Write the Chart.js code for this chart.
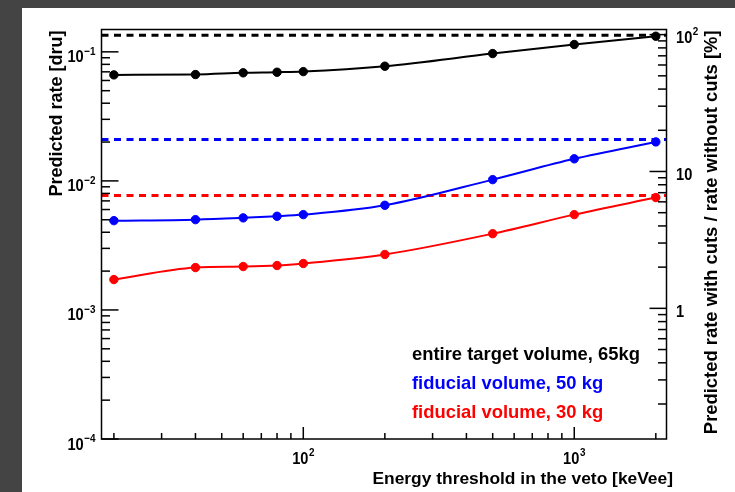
<!DOCTYPE html>
<html><head><meta charset="utf-8">
<style>html,body{margin:0;padding:0;background:#444;} #wrap{width:735px;height:492px;position:relative;}</style>
<script src="https://cdn.jsdelivr.net/npm/chart.js@4/dist/chart.umd.min.js"></script>
</head><body><div id="wrap"><canvas id="c" width="735" height="492"></canvas></div>
<script>
// ---- data ----
const thresholds = [20, 40, 60, 80, 100, 200, 500, 1000, 2000];
const rateEntire = [0.0663, 0.0667, 0.0688, 0.0695, 0.0703, 0.0774, 0.0970, 0.1140, 0.1321];
const rateFid50  = [0.00492, 0.00501, 0.00517, 0.00532, 0.00548, 0.00647, 0.01023, 0.01483, 0.02005];
const rateFid30  = [0.00172, 0.00213, 0.00217, 0.00221, 0.00229, 0.00269, 0.00390, 0.00548, 0.00743];
const noCutRates = [0.1346, 0.0209, 0.00769];
const seriesLabels = ['entire target volume, 65kg', 'fiducial volume, 50 kg', 'fiducial volume, 30 kg'];
const seriesColors = ['#000000', '#0000ff', '#ff0000'];
const xRange = [18, 2190];
const yRange = [1e-4, 0.149];
const y2Range = [0.111, 109];
const xTickValues = [100, 1000];
const xTickBases = ['10', '10'];
const xTickExps = ['2', '3'];
const yTickValues = [1e-4, 1e-3, 1e-2, 1e-1];
const yTickBases = ['10', '10', '10', '10'];
const yTickExps = ['\u22124', '\u22123', '\u22122', '\u22121'];
const y2TickValues = [1, 10, 100];
const y2TickBases = ['1', '10', '10'];
const y2TickExps = ['', '', '2'];
const xTitle = 'Energy threshold in the veto [keVee]';
const yTitle = 'Predicted rate [dru]';
const y2Title = 'Predicted rate with cuts / rate without cuts [%]';

const FONT = "'Liberation Sans', Arial, Helvetica, sans-serif";
const seriesValues = [rateEntire, rateFid50, rateFid30];

const solidSets = seriesValues.map((vals, i) => ({
  label: seriesLabels[i],
  data: thresholds.map((t, k) => ({x: t, y: vals[k]})),
  borderColor: seriesColors[i],
  backgroundColor: seriesColors[i],
  borderWidth: 2,
  pointRadius: 4.2,
  pointBorderWidth: 1,
  pointBackgroundColor: seriesColors[i],
  pointBorderColor: seriesColors[i],
  cubicInterpolationMode: 'monotone',
  yAxisID: 'y'
}));
const dashedSets = noCutRates.map((v, i) => ({
  label: seriesLabels[i] + ' (no cuts)',
  data: [{x: xRange[0], y: v}, {x: xRange[1], y: v}],
  borderColor: seriesColors[i],
  borderWidth: 3,
  borderDash: [7, 5.5],
  pointRadius: 0,
  yAxisID: 'y'
}));

function logTicks(min, max) {
  const out = [];
  for (let e = Math.floor(Math.log10(min)) - 1; e <= Math.ceil(Math.log10(max)); e++) {
    for (let m = 1; m <= 9; m++) {
      const v = m * Math.pow(10, e);
      if (v >= min * 0.9999 && v <= max * 1.0001) out.push({v, major: m === 1});
    }
  }
  return out;
}

const SQ = 0.86;
function drawPow(ctx, base, exp, x, y, align) {
  ctx.font = 'bold 17px ' + FONT;
  const wb = ctx.measureText(base).width * SQ;
  ctx.font = 'bold 11.5px ' + FONT;
  const we = exp ? ctx.measureText(exp).width * SQ + 0.5 : 0;
  const total = wb + we;
  let sx = x;
  if (align === 'right') sx = x - total;
  else if (align === 'center') sx = x - total / 2;
  ctx.save();
  ctx.translate(sx, y);
  ctx.scale(SQ, 1);
  ctx.textAlign = 'left';
  ctx.textBaseline = 'alphabetic';
  ctx.font = 'bold 17px ' + FONT;
  ctx.fillText(base, 0, 0);
  if (exp) {
    ctx.font = 'bold 11.5px ' + FONT;
    ctx.fillText(exp, (wb + 0.5) / SQ, -7.5);
  }
  ctx.restore();
}

const rootStyle = {
  id: 'rootStyle',
  beforeDraw(chart) {
    const ctx = chart.ctx;
    ctx.save();
    ctx.fillStyle = '#444444';
    ctx.fillRect(0, 0, chart.width, chart.height);
    ctx.fillStyle = '#ffffff';
    ctx.fillRect(22, 8, chart.width - 22, chart.height - 8);
    ctx.restore();
  },
  afterDraw(chart) {
    const ctx = chart.ctx, ca = chart.chartArea, s = chart.scales;
    ctx.save();
    ctx.strokeStyle = '#000';
    ctx.fillStyle = '#000';
    ctx.lineWidth = 1.5;
    ctx.strokeRect(ca.left, ca.top, ca.right - ca.left, ca.bottom - ca.top);
    const line = (x1, y1, x2, y2) => { ctx.beginPath(); ctx.moveTo(x1, y1); ctx.lineTo(x2, y2); ctx.stroke(); };
    logTicks(yRange[0], yRange[1]).forEach(t => {
      const y = s.y.getPixelForValue(t.v);
      line(ca.left, y, ca.left + (t.major ? 17 : 8.5), y);
    });
    logTicks(y2Range[0], y2Range[1]).forEach(t => {
      const y = s.y2.getPixelForValue(t.v);
      line(ca.right - (t.major ? 17 : 8.5), y, ca.right, y);
    });
    logTicks(xRange[0], xRange[1]).forEach(t => {
      const x = s.x.getPixelForValue(t.v);
      line(x, ca.bottom, x, ca.bottom - (t.major ? 12 : 6));
    });
    // tick labels
    yTickValues.forEach((v, i) => drawPow(ctx, yTickBases[i], yTickExps[i], ca.left - 6, s.y.getPixelForValue(v) + 10.5, 'right'));
    y2TickValues.forEach((v, i) => drawPow(ctx, y2TickBases[i], y2TickExps[i], ca.right + 9.5, s.y2.getPixelForValue(v) + 8.2, 'left'));
    xTickValues.forEach((v, i) => drawPow(ctx, xTickBases[i], xTickExps[i], s.x.getPixelForValue(v), ca.bottom + 24.5, 'center'));
    // titles
    ctx.textBaseline = 'alphabetic';
    ctx.textAlign = 'right';
    ctx.font = 'bold 17.4px ' + FONT;
    ctx.fillText(xTitle, 673, 483.5);
    ctx.font = 'bold 18px ' + FONT;
    ctx.save();
    ctx.translate(61.5, ca.top + 1);
    ctx.rotate(-Math.PI / 2);
    ctx.textAlign = 'right';
    ctx.fillText(yTitle, 0, 0);
    ctx.restore();
    ctx.font = 'bold 18.4px ' + FONT;
    ctx.save();
    ctx.translate(716.5, ca.top + 1);
    ctx.rotate(-Math.PI / 2);
    ctx.textAlign = 'right';
    ctx.fillText(y2Title, 0, 0);
    ctx.restore();
    // legend
    ctx.font = 'bold 18.4px ' + FONT;
    ctx.textAlign = 'left';
    seriesLabels.forEach((lab, i) => {
      ctx.fillStyle = seriesColors[i];
      ctx.fillText(lab, 412, 360 + i * 29);
    });
    ctx.restore();
  }
};

new Chart(document.getElementById('c'), {
  type: 'line',
  data: { datasets: solidSets.concat(dashedSets) },
  options: {
    responsive: false,
    animation: false,
    devicePixelRatio: 1,
    layout: { padding: { left: 101.5, top: 29.5, right: 68.5, bottom: 53 } },
    plugins: { legend: { display: false }, tooltip: { enabled: false }, title: { display: false } },
    scales: {
      x: { type: 'logarithmic', min: xRange[0], max: xRange[1], bounds: 'data', display: false },
      y: { type: 'logarithmic', min: yRange[0], max: yRange[1], bounds: 'data', display: false },
      y2: { type: 'logarithmic', position: 'right', min: y2Range[0], max: y2Range[1], bounds: 'data', display: false }
    }
  },
  plugins: [rootStyle]
});
</script>
</body></html>
